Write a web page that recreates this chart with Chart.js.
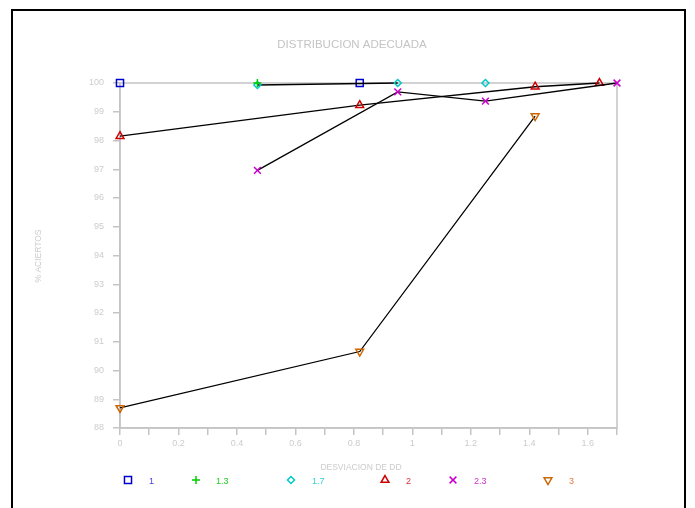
<!DOCTYPE html>
<html>
<head>
<meta charset="utf-8">
<script src="https://cdn.jsdelivr.net/npm/chart.js@4"></script>
<style>
  html, body { margin: 0; padding: 0; background: #fff; }
  #wrap { position: relative; width: 695px; height: 508px; }
  #frame { position: absolute; left: 11px; top: 9px; width: 675px; height: 520px; border: 2px solid #000; box-sizing: border-box; }
</style>
</head>
<body>
<div id="wrap">
  <canvas id="canvas" width="695" height="508"></canvas>
  <div id="frame"></div>
</div>
<script>
const seriesNames = ["1", "1.3", "1.7", "2", "2.3", "3"];
const s1x = [0, 0.82];
const s1y = [100, 100];
const s13x = [0.47];
const s13y = [100];
const s17x = [0.47, 0.95];
const s17y = [99.93, 100];
const s17bx = [1.25];
const s17by = [100];
const s2x = [0, 0.82, 1.42, 1.64];
const s2y = [98.15, 99.23, 99.87, 100];
const s23x = [0.47, 0.95, 1.25, 1.7];
const s23y = [96.96, 99.69, 99.37, 100];
const s3x = [0, 0.82, 1.42];
const s3y = [88.7, 90.66, 98.85];
const xTicks = [0, 0.2, 0.4, 0.6, 0.8, 1, 1.2, 1.4, 1.6];

const pointColors = ["#0000cc", "#00cc00", "#00c8c8", "#cc0000", "#cc00cc", "#cc6600"];
const labelColors = ["#4444dd", "#22cc22", "#33d0d0", "#dd3333", "#cc33cc", "#e07a40"];
const styles = ["rect", "cross", "rectRot", "triangle", "crossRot", "triangle"];
const radii = [5, 4, 3.5, 4.5, 4.8, 4.5];
const rotations = [0, 0, 0, 0, 0, 180];
const legendX = [128, 196, 291, 385, 453, 548];
const legendTextX = [149, 216, 312, 406, 474, 569];

const fontFam = "'Liberation Sans', Arial, sans-serif";

function pts(xs, ys) {
  return xs.map((x, i) => ({ x: x, y: ys[i] }));
}

function makeSet(idx, xs, ys, line) {
  return {
    label: seriesNames[idx],
    data: pts(xs, ys),
    showLine: line,
    clip: false,
    borderColor: "#000",
    borderWidth: 1.3,
    pointStyle: styles[idx],
    pointRadius: radii[idx],
    pointRotation: rotations[idx],
    pointBorderColor: pointColors[idx],
    pointBackgroundColor: "rgba(255,255,255,0)",
    pointBorderWidth: 1.5
  };
}

// first dataset is drawn on top
const datasets = [
  makeSet(4, s23x, s23y, true),
  makeSet(1, s13x, s13y, false),
  makeSet(3, s2x, s2y, true),
  makeSet(5, s3x, s3y, true),
  makeSet(2, s17x, s17y, true),
  makeSet(2, s17bx, s17by, false),
  makeSet(0, s1x, s1y, false)
];

const boxAndText = {
  id: "boxAndText",
  beforeDatasetsDraw(chart) {
    const c = chart.ctx;
    const a = chart.chartArea;
    c.save();
    c.strokeStyle = "#c4c4c4";
    c.lineWidth = 1.5;
    c.strokeRect(a.left, a.top, a.right - a.left, a.bottom - a.top);
    c.restore();
  },
  afterDraw(chart) {
    const c = chart.ctx;
    c.save();
    c.fillStyle = "#c4c4c4";
    c.textAlign = "center";
    c.textBaseline = "middle";
    c.font = "11.5px " + fontFam;
    c.fillText("DISTRIBUCION ADECUADA", 352, 45);
    c.font = "8.5px " + fontFam;
    c.fillStyle = "#cccccc";
    c.fillText("DESVIACION DE DD", 361, 468);
    c.translate(39, 256);
    c.rotate(-Math.PI / 2);
    c.fillText("% ACIERTOS", 0, 0);
    c.restore();
  }
};

const legendPlugin = {
  id: "legendMarks",
  afterDraw(chart) {
    const c = chart.ctx;
    for (let i = 0; i < seriesNames.length; i++) {
      c.save();
      c.strokeStyle = pointColors[i];
      c.fillStyle = "rgba(255,255,255,0)";
      c.lineWidth = 1.5;
      Chart.helpers.drawPoint(c, {
        pointStyle: styles[i],
        radius: radii[i],
        rotation: rotations[i],
        borderWidth: 1.5
      }, legendX[i], 480);
      c.fillStyle = labelColors[i];
      c.font = "9px " + fontFam;
      c.textAlign = "left";
      c.textBaseline = "middle";
      c.fillText(seriesNames[i], legendTextX[i], 482);
      c.restore();
    }
  }
};

const ctx = document.getElementById("canvas");
new Chart(ctx, {
  type: "scatter",
  data: { datasets: datasets },
  options: {
    responsive: false,
    animation: false,
    layout: { padding: { left: 0, right: 78, top: 83, bottom: 0 } },
    plugins: {
      legend: { display: false },
      tooltip: { enabled: false }
    },
    scales: {
      x: {
        type: "linear",
        min: 0,
        max: 1.7,
        afterFit: (scale) => { scale.height = 80; },
        afterBuildTicks: (scale) => {
          const t = [];
          for (let i = 0; i <= 17; i++) t.push({ value: i / 10 });
          scale.ticks = t;
        },
        ticks: {
          autoSkip: false,
          maxRotation: 0,
          padding: 3,
          color: "#cccccc",
          font: { family: fontFam, size: 9 },
          callback: (v) => {
            const r = Math.round(v * 10) / 10;
            return xTicks.includes(r) ? String(r) : "";
          }
        },
        grid: { drawOnChartArea: false, tickLength: 7, color: "#c4c4c4", lineWidth: 1.5 },
        border: { color: "#c4c4c4", width: 1.5 }
      },
      y: {
        type: "linear",
        min: 88,
        max: 100,
        afterFit: (scale) => { scale.width = 120; },
        ticks: {
          stepSize: 1,
          padding: 9,
          color: "#cccccc",
          font: { family: fontFam, size: 9 }
        },
        grid: { drawOnChartArea: false, tickLength: 7, color: "#c4c4c4", lineWidth: 1.5 },
        border: { color: "#c4c4c4", width: 1.5 }
      }
    }
  },
  plugins: [boxAndText, legendPlugin]
});
</script>
</body>
</html>
